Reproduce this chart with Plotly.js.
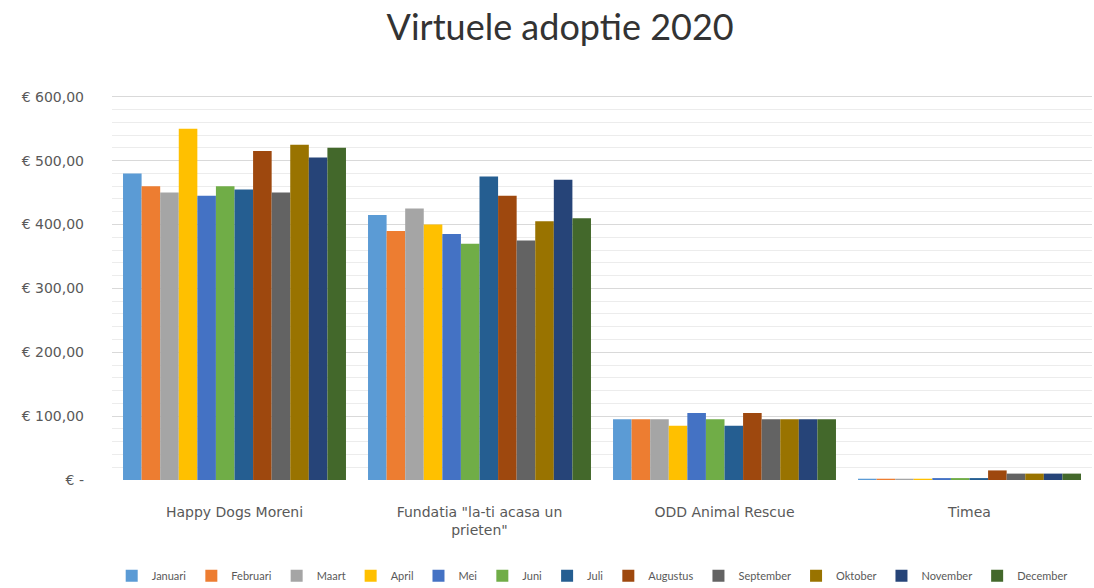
<!DOCTYPE html>
<html>
<head>
<meta charset="utf-8">
<script src="https://cdn.plot.ly/plotly-3.0.1.min.js"></script>
<style>html,body{margin:0;padding:0;background:#fff;}#chart{width:1094px;height:588px;}</style>
</head>
<body>
<div id="chart"></div>
<script>
const categories = ['Happy Dogs Moreni', 'Fundatia "la-ti acasa un<br>prieten"', 'ODD Animal Rescue', 'Timea'];
const months = ['Januari','Februari','Maart','April','Mei','Juni','Juli','Augustus','September','Oktober','November','December'];
const colors = ['#5B9BD5','#ED7D31','#A5A5A5','#FFC000','#4472C4','#70AD47','#255E91','#9E480E','#636363','#997300','#264478','#43682B'];
// values per month: [Happy Dogs, Fundatia, ODD, Timea]
const januari   = [480, 415, 95, 2];
const februari  = [460, 390, 95, 2];
const maart     = [450, 425, 95, 2];
const april     = [550, 400, 85, 2];
const mei       = [445, 385, 105, 3];
const juni      = [460, 370, 95, 3];
const juli      = [455, 475, 85, 3];
const augustus  = [515, 445, 105, 15];
const september = [450, 375, 95, 10];
const oktober   = [525, 405, 95, 10];
const november  = [505, 470, 95, 10];
const december  = [520, 410, 95, 10];
const series = [januari, februari, maart, april, mei, juni, juli, augustus, september, oktober, november, december];
const tickVals = [0, 100, 200, 300, 400, 500, 600];
const tickText = ['€ -', '€ 100,00', '€ 200,00', '€ 300,00', '€ 400,00', '€ 500,00', '€ 600,00'];

const traces = series.map((vals, i) => ({
  type: 'bar',
  name: months[i],
  x: categories,
  y: vals,
  marker: {color: colors[i], line: {width: 0}},
  hoverinfo: 'skip'
}));

const tickFont = {family: '"DejaVu Sans", sans-serif', size: 14, color: '#595959'};

const layout = {
  width: 1094, height: 588,
  paper_bgcolor: '#ffffff', plot_bgcolor: '#ffffff',
  font: {family: '"DejaVu Sans", sans-serif', color: '#595959', size: 12},
  title: {text: 'Virtuele adoptie 2020', x: 0.512, xanchor: 'center', y: 0.953, yanchor: 'middle',
          font: {size: 36, color: '#333333', family: 'Lato, "Open Sans", sans-serif'}},
  margin: {l: 112, r: 2, t: 84, b: 108, autoexpand: false},
  barmode: 'group', bargap: 0.09, bargroupgap: 0,
  xaxis: {showgrid: false, zeroline: false, showline: false, ticks: '', ticklabelstandoff: 22,
          tickfont: tickFont, automargin: false},
  yaxis: {range: [0, 620], tickvals: tickVals, ticktext: tickText, showgrid: true, gridcolor: '#d9d9d9',
          zeroline: false, showline: false, ticks: '', ticklabelstandoff: 27,
          tickfont: tickFont, automargin: false,
          minor: {dtick: 20, tick0: 0, showgrid: true, gridcolor: '#ececec'}},
  legend: {orientation: 'h', x: 0.49, xanchor: 'center', y: -0.205, yanchor: 'top',
           font: {size: 11, color: '#595959', family: 'Lato, sans-serif'}, itemwidth: 30, tracegroupgap: 0},
  showlegend: true
};

Plotly.newPlot('chart', traces, layout, {displayModeBar: false, staticPlot: true});
</script>
</body>
</html>
